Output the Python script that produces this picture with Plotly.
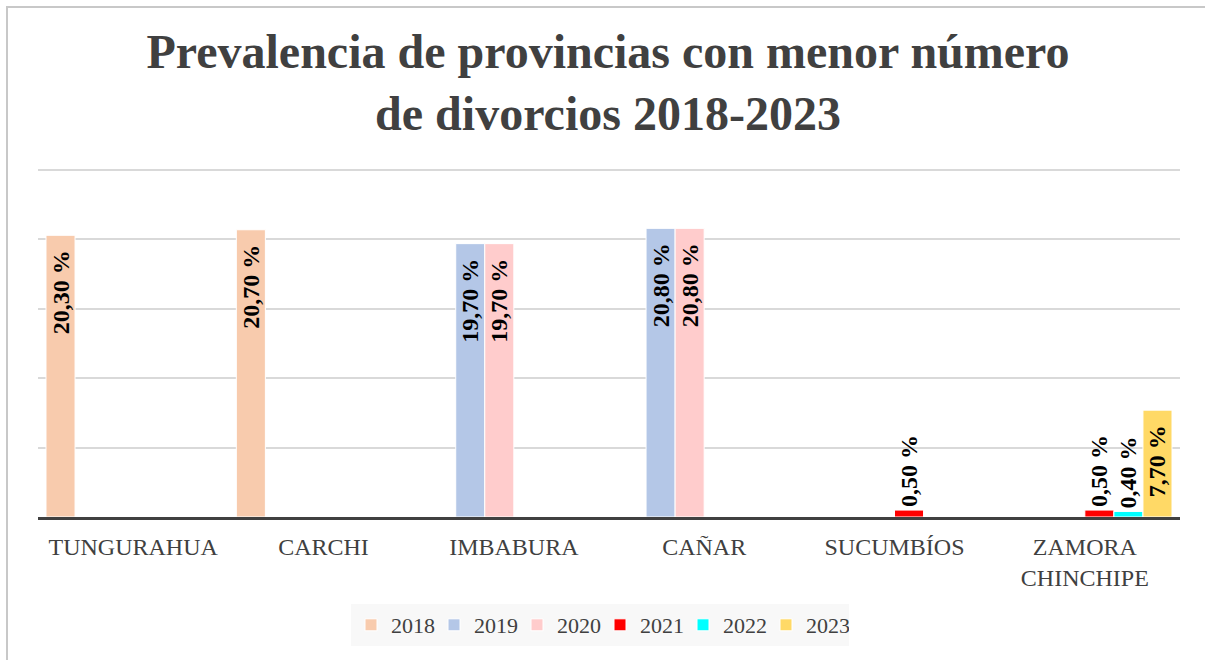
import plotly.graph_objects as go

categories = ["TUNGURAHUA", "CARCHI", "IMBABURA", "CAÑAR", "SUCUMBÍOS", "ZAMORA<br>CHINCHIPE"]
years = ["2018", "2019", "2020", "2021", "2022", "2023"]
v2018 = [20.3, 20.7, None, None, None, None]
v2019 = [None, None, 19.7, 20.8, None, None]
v2020 = [None, None, 19.7, 20.8, None, None]
v2021 = [None, None, None, None, 0.5, 0.5]
v2022 = [None, None, None, None, None, 0.4]
v2023 = [None, None, None, None, None, 7.7]
series = [v2018, v2019, v2020, v2021, v2022, v2023]
colors = ["#f8cbad", "#b4c7e7", "#ffcccc", "#ff0000", "#00ffff", "#ffd966"]

W, H = 1205, 660
YMAX = 25.15
# plot area in screen pixels
PX0, PX1, PY1 = 38, 1180, 517
PY0 = PY1 - round(347 * YMAX / 25)
ML, MR, MT, MB = PX0, W - PX1, PY0, H - PY1
PW, PH = PX1 - PX0, PY1 - PY0

def px_x(p):
    return (p - PX0) / PW

def px_y(p):
    return (PY1 - p) / PH

def fmt(v):
    if v is None:
        return ""
    return f"{v:.2f}".replace(".", ",") + " %\u00a0\u00a0"

serif = "Liberation Serif"
fig = go.Figure()
for name, vals, col in zip(years, series, colors):
    fig.add_trace(go.Bar(
        name=name, x=categories, y=vals,
        marker=dict(color=col, line=dict(color="white", width=1)),
        text=[fmt(v) for v in vals],
        textposition="auto",
        textangle=-90,
        insidetextanchor="end",
        constraintext="none",
        textfont=dict(family=serif, size=24, color="black", weight="bold"),
        cliponaxis=False,
    ))

fig.update_layout(
    width=W, height=H,
    margin=dict(l=ML, r=MR, t=MT, b=MB),
    paper_bgcolor="white", plot_bgcolor="white",
    barmode="group", bargap=0.084, bargroupgap=0.0,
    title=dict(
        text="Prevalencia de provincias con menor número<br>de divorcios 2018-2023",
        font=dict(family=serif, size=48, color="#404040", weight="bold"),
        x=608 / W, xanchor="center", xref="container",
        y=1 - 68 / H, yanchor="middle", yref="container",
    ),
    xaxis=dict(
        showline=True, linecolor="#404040", linewidth=3,
        ticks="outside", ticklen=6, tickcolor="rgba(0,0,0,0)",
        tickfont=dict(family=serif, size=24, color="#404040"),
        showgrid=False,
    ),
    yaxis=dict(
        range=[0, YMAX], tickvals=[0, 5, 10, 15, 20, 25], showticklabels=False,
        showgrid=True, gridcolor="#d9d9d9", gridwidth=1.5,
        zeroline=False,
    ),
    legend=dict(
        orientation="h", xref="container", yref="container",
        x=600 / W, xanchor="center", y=1 - 604 / H, yanchor="top",
        bgcolor="#f8f8f8",
        font=dict(family=serif, size=22, color="#404040"),
        entrywidth=38, entrywidthmode="pixels",
        itemclick=False,
    ),
    showlegend=True,
    shapes=[
        dict(type="line", xref="paper", yref="paper",
             x0=px_x(7), x1=px_x(7), y0=px_y(6), y1=px_y(H + 5),
             line=dict(color="#c8c8c8", width=2)),
        dict(type="line", xref="paper", yref="paper",
             x0=px_x(6), x1=px_x(W + 5), y0=px_y(7), y1=px_y(7),
             line=dict(color="#c8c8c8", width=2)),
    ],
)

fig.write_html(
    "out.html",
    config={"displayModeBar": False},
    post_script="document.body.style.margin='0';document.body.style.overflow='hidden';",
)
